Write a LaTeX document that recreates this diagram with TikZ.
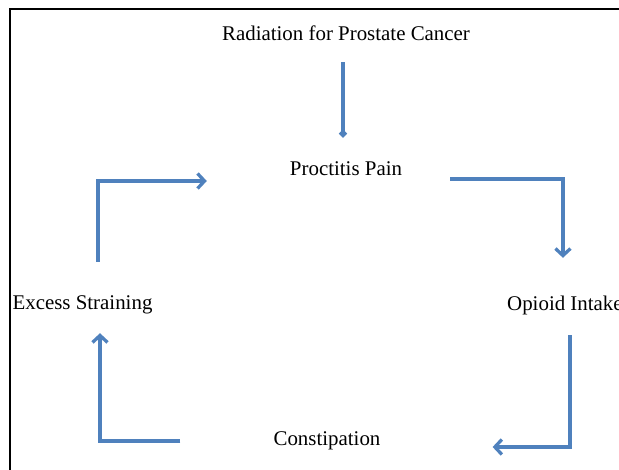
\documentclass[tikz,border=0pt]{standalone}
\usepackage{fontspec}
\setmainfont{Liberation Serif}
\usetikzlibrary{arrows.meta,positioning}
\definecolor{flowblue}{HTML}{4F81BD}
\tikzstyle{stage} = [inner sep=0pt, text height=17pt, text depth=1pt, font=\fontsize{20.9}{25}\selectfont]
\tikzstyle{flow} = [draw=flowblue, line width=3.3pt, -{Straight Barb[length=7pt, width=15pt]}]
\tikzstyle{frame} = [line width=2pt]

\begin{document}
\begin{tikzpicture}[x=1pt, y=-1pt]

\useasboundingbox (0,0) rectangle (619,470);
\draw [frame] (10,470) -- (10,9) -- (619,9);

\node [stage] (radiation) at (346,33) {Radiation for Prostate Cancer};
\node [stage] (pain) at (346,168) {Proctitis Pain};
\node [stage, anchor=west] (opioid) at (507,303) {Opioid Intake};
\node [stage] (constipation) at (327,438) {Constipation};
\node [stage] (straining) at (82.5,302) {Excess Straining};

\draw [flow, -{Straight Barb[length=3pt, width=6pt]}, shorten <=20pt, shorten >=21pt] ([xshift=-3pt]radiation.south) -- ([xshift=-3pt]pain.north);
\draw [flow] ([shift={(48,11)}]pain.east) -| ([shift={(-2,-36)}]opioid.north);
\draw [flow] ([shift={(5,23)}]opioid.south) |- ([shift={(112,9)}]constipation.east);
\draw [flow] ([shift={(-93,3)}]constipation.west) -| ([shift={(17.5,22)}]straining.south);
\draw [flow] ([shift={(15.5,-31)}]straining.north) |- ([shift={(-83,13)}]pain.west);

\end{tikzpicture}
\end{document}
